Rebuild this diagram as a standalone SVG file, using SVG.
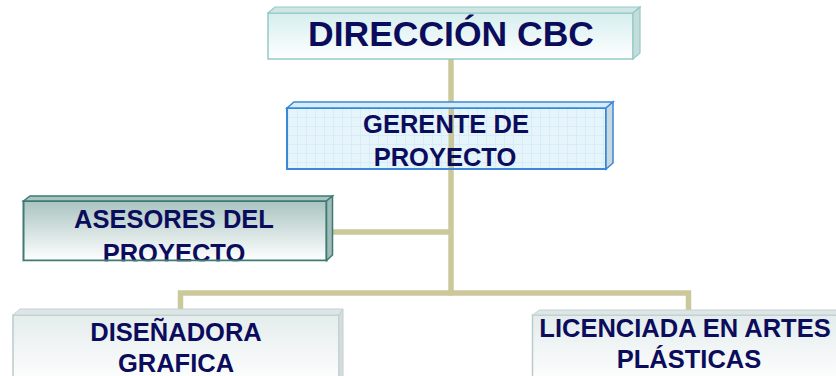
<svg xmlns="http://www.w3.org/2000/svg" width="836" height="376" viewBox="0 0 836 376">
<defs>
  <linearGradient id="gTop" x1="0" y1="0" x2="0" y2="1">
    <stop offset="0" stop-color="#d6eeee"/>
    <stop offset="1" stop-color="#ffffff"/>
  </linearGradient>
  <linearGradient id="gAse" x1="0" y1="0" x2="0" y2="1">
    <stop offset="0" stop-color="#a9c4c1"/>
    <stop offset="1" stop-color="#ffffff"/>
  </linearGradient>
  <linearGradient id="gBot" x1="0" y1="0" x2="0" y2="1">
    <stop offset="0" stop-color="#e4ecec"/>
    <stop offset="1" stop-color="#ffffff"/>
  </linearGradient>
  <pattern id="grid" width="9" height="9" patternUnits="userSpaceOnUse">
    <path d="M0 0.5H9M0.5 0V9" stroke="#d8ecf5" stroke-width="1" fill="none"/>
  </pattern>
</defs>
<style>
  .conn { stroke: #cbc99b; stroke-width: 5.5; fill: none; }
  .t { font-family: "Liberation Sans", Arial, sans-serif; font-weight: bold; fill: #0c0c5c; text-anchor: middle; }
  .t25 { font-size: 25.5px; }
</style>

<g id="connectors">
  <line class="conn" x1="451" y1="58" x2="451" y2="295.5"/>
  <line class="conn" x1="330" y1="232" x2="451" y2="232"/>
  <polyline class="conn" points="180.5,312 180.5,293 688.5,293 688.5,312"/>
</g>

<g id="direccion">
  <rect x="268" y="13" width="365" height="46" fill="url(#gTop)" stroke="#93cac8" stroke-width="1.5"/>
  <polygon points="268,13 275,7 640,7 633,13" fill="#cfe6e4" stroke="#93cac8" stroke-width="1.2"/>
  <polygon points="633,13 640,7 640,53 633,59" fill="#c4dcda" stroke="#93cac8" stroke-width="1.2"/>
  <text class="t" x="451" y="46" font-size="35.5">DIRECCIÓN CBC</text>
</g>

<g id="gerente">
  <rect x="287" y="108" width="319" height="61" fill="#e6f5fb"/>
  <rect x="287" y="108" width="319" height="61" fill="url(#grid)"/>
  <rect x="448.5" y="109" width="5.5" height="59" fill="#c8c597"/>
  <rect x="287" y="108" width="319" height="61" fill="none" stroke="#3a88d6" stroke-width="2"/>
  <polygon points="287,108 294,102 613,102 606,108" fill="#d6ecf8" stroke="#3a88d6" stroke-width="1.5"/>
  <polygon points="606,108 613,102 613,163 606,169" fill="#c9d8e0" stroke="#3a88d6" stroke-width="1.5"/>
  <text class="t t25" x="446" y="132.5">GERENTE DE</text>
  <text class="t t25" x="445" y="166">PROYECTO</text>
</g>

<g id="asesores">
  <rect x="23.5" y="201" width="303" height="59.5" fill="url(#gAse)"/>
  <text class="t t25" x="174" y="227.5">ASESORES DEL</text>
  <text class="t t25" x="174" y="262">PROYECTO</text>
  <rect x="23.5" y="201" width="303" height="59.5" fill="none" stroke="#3f7a74" stroke-width="2"/>
  <rect x="23" y="261.5" width="304" height="6" fill="#ffffff"/>
  <polygon points="23.5,201 30,196 332.5,196 326.5,201" fill="#a9c4c0" stroke="#3f7a74" stroke-width="1.5"/>
  <polygon points="326.5,201 332.5,196 332.5,255 326.5,260.5" fill="#9fbcb8" stroke="#3f7a74" stroke-width="1.5"/>
</g>

<g id="disenadora">
  <rect x="13" y="315" width="326" height="70" fill="url(#gBot)" stroke="#bccaca" stroke-width="1.5"/>
  <polygon points="13,315 20,309 343,309 339,315" fill="#dde6e6" stroke="#c4d0d0" stroke-width="1"/>
  <polygon points="339,315 343,309 343,380 339,380" fill="#d4dcdc" stroke="#c4d0d0" stroke-width="1"/>
  <text class="t t25" x="176" y="341">DISEÑADORA</text>
  <text class="t t25" x="176" y="371.5">GRAFICA</text>
</g>

<g id="licenciada">
  <rect x="532.5" y="315" width="330" height="70" fill="url(#gBot)" stroke="#bccaca" stroke-width="1.5"/>
  <polygon points="532.5,315 539.5,310 870,310 862,315" fill="#dde6e6" stroke="#c4d0d0" stroke-width="1"/>
  <text class="t t25" x="685" y="337">LICENCIADA EN ARTES</text>
  <text class="t t25" x="689" y="367.5">PLÁSTICAS</text>
</g>
</svg>
